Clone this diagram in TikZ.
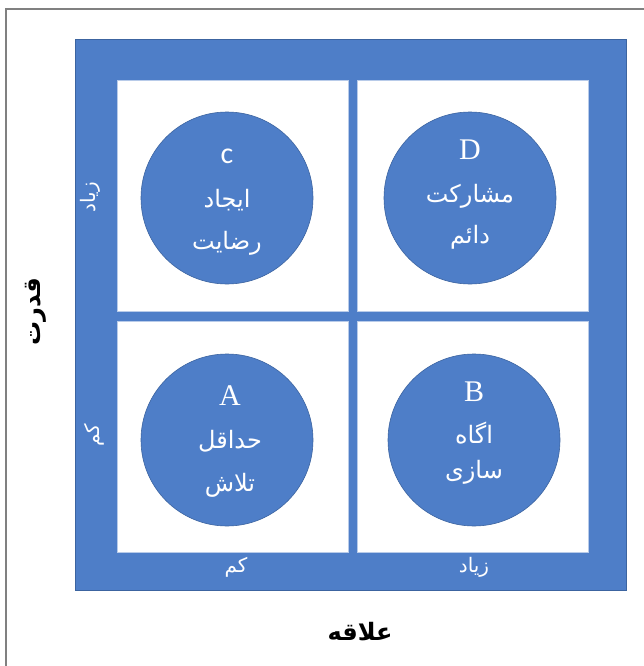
\documentclass[tikz,border=0pt]{standalone}
\usepackage{fontspec}
\TeXXeTstate=1
\newfontfamily\arabicfont[Script=Arabic]{DejaVu Sans}
\newfontfamily\latinserif{Liberation Serif}
\newfontfamily\latinsans{Carlito}
\definecolor{gridblue}{RGB}{78,126,200}
\definecolor{edgeblue}{RGB}{60,100,160}
\newcommand{\fa}[1]{\arabicfont\beginR #1\endR}
\begin{document}
\begin{tikzpicture}[x=1pt,y=-1pt,
  outerbox/.style={draw=edgeblue,line width=0.6pt,fill=gridblue,minimum width=551pt,minimum height=551pt,inner sep=0pt},
  cell/.style={fill=white,draw=gridblue!40,line width=0.5pt,minimum width=231pt,minimum height=231pt,inner sep=0pt},
  disc/.style={circle,fill=gridblue,draw=edgeblue,line width=0.6pt,minimum size=172pt,inner sep=0pt},
  letter/.style={text=white,font=\latinserif\fontsize{30}{30}\selectfont,inner sep=0pt},
  words/.style={text=white,font=\fontsize{24}{24}\selectfont,inner sep=0pt},
  barlabel/.style={text=white,font=\fontsize{20}{20}\selectfont,inner sep=0pt},
  axislabel/.style={text=black,font=\bfseries\fontsize{24}{24}\selectfont,inner sep=0pt}]
\useasboundingbox (0,0) rectangle (644,666);
\fill[white] (0,0) rectangle (644,666);
% page border
\draw[gray,line width=1.2pt] (6,666) -- (6,9) -- (644,9);
% blue matrix frame and the four cells
\node[outerbox] (frame) at (350.5,314.5) {};
\node[cell] (cellC) at (232.5,195.5) {};
\node[cell] (cellD) at (472.5,195.5) {};
\node[cell] (cellA) at (232.5,436.5) {};
\node[cell] (cellB) at (472.5,436.5) {};
% quadrant discs
\node[disc] (discC) at (227,198) {};
\node[disc] (discD) at (470,198) {};
\node[disc] (discA) at (227,440) {};
\node[disc] (discB) at (474,440) {};
% quadrant C
\node[letter,font=\latinsans\fontsize{30}{30}\selectfont] (labC) at (227,156) {c};
\node[words] (c1) at (227,200) {\fa{ایجاد}};
\node[words] (c2) at (227,243) {\fa{رضایت}};
% quadrant D
\node[letter] (labD) at (470,150) {D};
\node[words] (d1) at (470,196) {\fa{مشارکت}};
\node[words] (d2) at (470,237) {\fa{دائم}};
% quadrant A
\node[letter] (labA) at (230,396) {A};
\node[words] (a1) at (230,441) {\fa{حداقل}};
\node[words] (a2) at (230,485) {\fa{تلاش}};
% quadrant B
\node[letter] (labB) at (474,392) {B};
\node[words] (b1) at (474,433) {\fa{اگاه}};
\node[words] (b2) at (474,472) {\fa{سازی}};
% scale labels on the frame
\node[barlabel,rotate=90] (highP) at (90,197) {\fa{زیاد}};
\node[barlabel,rotate=90] (lowP) at (94,435) {\fa{کم}};
\node[barlabel] (lowI) at (236,567) {\fa{کم}};
\node[barlabel] (highI) at (474,567) {\fa{زیاد}};
% axis titles
\node[axislabel,rotate=90] (power) at (36,312) {\fa{قدرت}};
\node[axislabel] (interest) at (360,632) {\fa{علاقه}};
\end{tikzpicture}
\end{document}
